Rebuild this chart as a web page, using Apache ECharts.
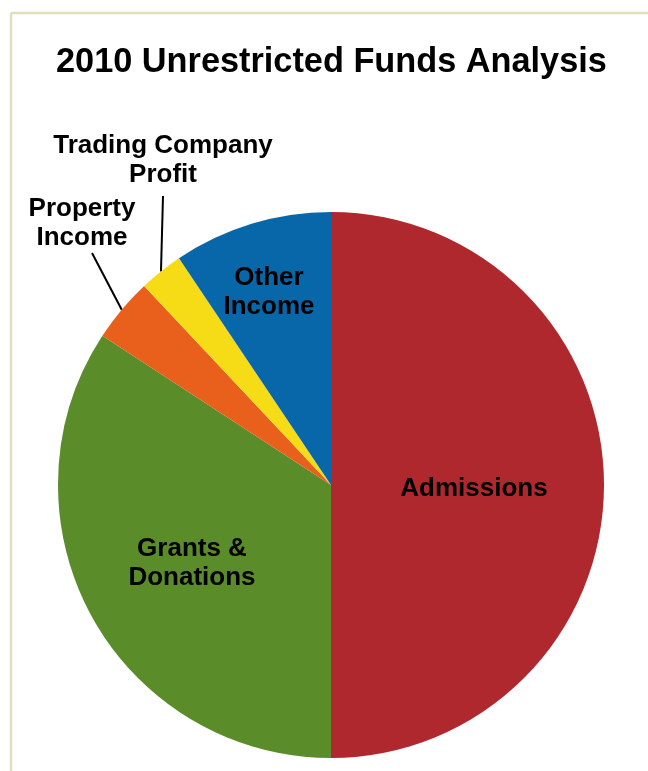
<!DOCTYPE html>
<html>
<head>
<meta charset="utf-8">
<script src="https://cdn.jsdelivr.net/npm/echarts@6/dist/echarts.min.js"></script>
<style>
  html, body { margin: 0; padding: 0; background: #fff; }
  #chart { width: 648px; height: 771px; }
</style>
</head>
<body>
<div id="chart"></div>
<script>
// data (percent of unrestricted funds)
const categories = ['Admissions', 'Grants &\nDonations', 'Property\nIncome', 'Trading Company\nProfit', 'Other\nIncome']
const values = [50, 34.2, 3.8, 2.6, 9.4]
const colors = ['#ae282e', '#5b8c2a', '#e8601c', '#f6dc17', '#0867a9']

// where each label sits, and where leader lines stop (null = no line)
const labelPos = [[474, 489], [192, 563], [82, 223], [163, 160], [269, 292]]
const lineEnd = [null, null, [92, 253], [163, 196], null]

const chart = echarts.init(document.getElementById('chart'))
chart.setOption({
  backgroundColor: '#fff',
  animation: false,
  title: {
    text: '2010 Unrestricted Funds Analysis',
    left: 51,
    top: 41,
    textStyle: {
      color: '#000',
      fontFamily: 'Liberation Sans',
      fontWeight: 'bold',
      fontSize: 34.3
    }
  },
  graphic: [
    {
      type: 'line',
      shape: { x1: 11, y1: 13, x2: 648, y2: 13 },
      style: { stroke: '#e2ddbf', lineWidth: 2.5 }
    },
    {
      type: 'line',
      shape: { x1: 11, y1: 13, x2: 11, y2: 771 },
      style: { stroke: '#e2ddbf', lineWidth: 2.5 }
    }
  ],
  series: [
    {
      type: 'pie',
      center: [331, 485],
      radius: 273,
      startAngle: 90,
      clockwise: true,
      avoidLabelOverlap: false,
      itemStyle: { borderWidth: 0 },
      emphasis: { disabled: true },
      label: {
        show: true,
        position: 'outside',
        color: '#000',
        fontFamily: 'Liberation Sans',
        fontWeight: 'bold',
        fontSize: 26,
        lineHeight: 29,
        width: 300,
        overflow: 'none',
        align: 'center'
      },
      labelLine: {
        show: true,
        length: 10,
        length2: 10,
        lineStyle: { color: '#000', width: 2 }
      },
      labelLayout: function (params) {
        const i = params.dataIndex
        const out = {
          x: labelPos[i][0],
          y: labelPos[i][1],
          align: 'center',
          verticalAlign: 'middle',
          hideOverlap: false
        }
        if (lineEnd[i] && params.labelLinePoints) {
          const p0 = params.labelLinePoints[0]
          out.labelLinePoints = [p0, p0, lineEnd[i]]
        }
        return out
      },
      data: categories.map((name, i) => ({
        name: name,
        value: values[i],
        itemStyle: { color: colors[i] },
        labelLine: { show: !!lineEnd[i] }
      }))
    }
  ]
})
</script>
</body>
</html>
